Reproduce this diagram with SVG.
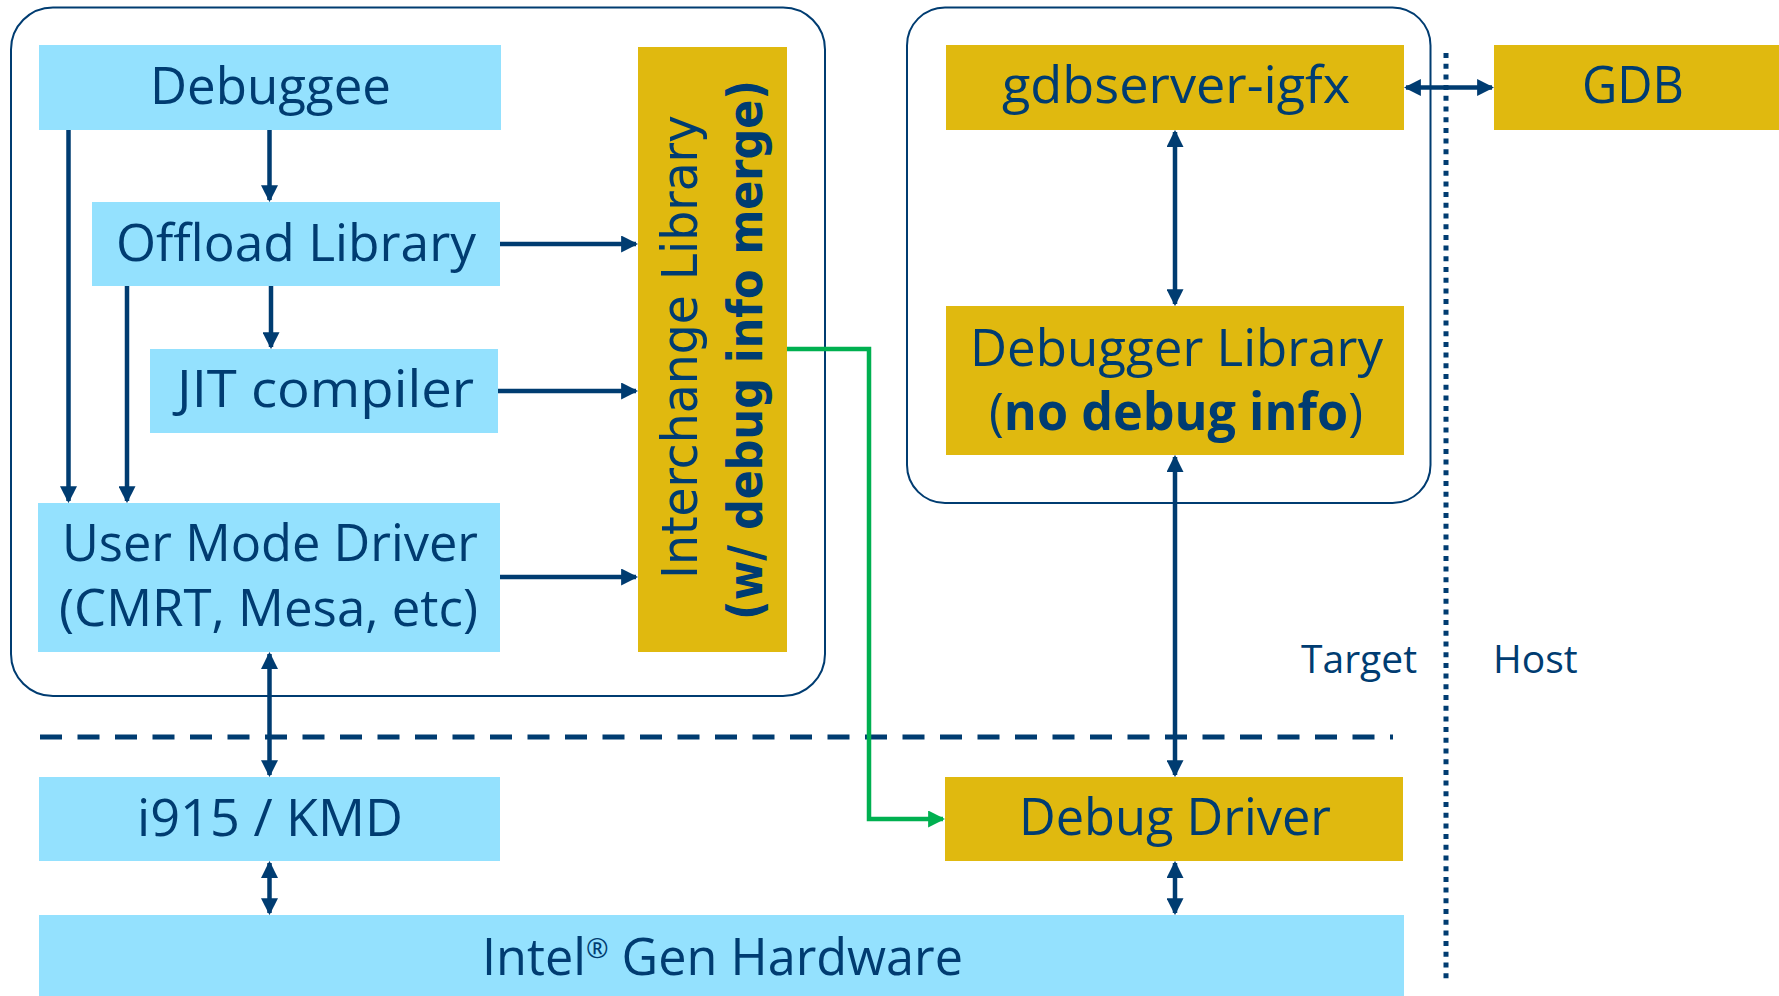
<svg xmlns="http://www.w3.org/2000/svg" width="1779" height="996" viewBox="0 0 1779 996">
  <style>
    .blue { fill: #94E1FE; }
    .gold { fill: #E0B90F; }
    .frame { fill: none; stroke: #003C71; stroke-width: 2; }
    .lbl { font-family: "Open Sans", "Noto Sans", sans-serif; font-size: 52px; fill: #003C71; text-anchor: middle; }
    .small { font-family: "Open Sans", "Noto Sans", sans-serif; font-size: 39px; fill: #003C71; }
    .vert { font-family: "DejaVu Sans", "Liberation Sans", sans-serif; fill: #003C71; text-anchor: middle; }
    .conn { fill: none; stroke: #003C71; stroke-width: 4.5; }
    .green { fill: none; stroke: #00B050; stroke-width: 4.5; }
  </style>
  <defs>
    <marker id="ah" viewBox="0 0 16 16" refX="14" refY="8" markerWidth="17" markerHeight="17" markerUnits="userSpaceOnUse" orient="auto-start-reverse">
      <path d="M0,0 L16,8 L0,16 z" fill="#003C71"/>
    </marker>
    <marker id="ahg" viewBox="0 0 16 16" refX="14" refY="8" markerWidth="17" markerHeight="17" markerUnits="userSpaceOnUse" orient="auto">
      <path d="M0,0 L16,8 L0,16 z" fill="#00B050"/>
    </marker>
  </defs>

  <g id="containers">
    <rect class="frame" x="11" y="7.5" width="814" height="688.5" rx="42" ry="42"/>
    <rect class="frame" x="907" y="7.5" width="523.5" height="495.5" rx="38" ry="38"/>
  </g>

  <g id="separators">
    <path d="M40,737 H1393" fill="none" stroke="#003C71" stroke-width="5" stroke-dasharray="22 15.5"/>
    <path d="M1446,53 V983" fill="none" stroke="#003C71" stroke-width="5" stroke-dasharray="5 5.7"/>
  </g>

  <g id="debuggee">
    <rect class="blue" x="39" y="45" width="462" height="85"/>
    <text class="lbl" x="270.5" y="104" textLength="241" lengthAdjust="spacingAndGlyphs">Debuggee</text>
  </g>
  <g id="offload-library">
    <rect class="blue" x="92" y="202" width="408" height="84"/>
    <text class="lbl" x="296" y="261" textLength="360" lengthAdjust="spacingAndGlyphs">Offload Library</text>
  </g>
  <g id="jit-compiler">
    <rect class="blue" x="150" y="349" width="348" height="84"/>
    <text class="lbl" x="325.5" y="407" textLength="297" lengthAdjust="spacingAndGlyphs">JIT compiler</text>
  </g>
  <g id="user-mode-driver">
    <rect class="blue" x="38" y="503" width="462" height="149"/>
    <text class="lbl" x="270" y="561" textLength="416" lengthAdjust="spacingAndGlyphs">User Mode Driver</text>
    <text class="lbl" x="268.5" y="626" textLength="419" lengthAdjust="spacingAndGlyphs">(CMRT, Mesa, etc)</text>
  </g>
  <g id="interchange-library">
    <rect class="gold" x="638" y="47" width="149" height="605"/>
    <text class="vert" transform="translate(697,347) rotate(-90)" font-size="50" textLength="464" lengthAdjust="spacingAndGlyphs">Interchange Library</text>
    <text class="vert" transform="translate(762,350) rotate(-90)" font-size="48" font-weight="bold" textLength="540" lengthAdjust="spacingAndGlyphs">(w/ debug info merge)</text>
  </g>
  <g id="i915-kmd">
    <rect class="blue" x="39" y="777" width="461" height="84"/>
    <text class="lbl" x="270" y="836" textLength="266" lengthAdjust="spacingAndGlyphs">i915 / KMD</text>
  </g>
  <g id="intel-gen-hardware">
    <rect class="blue" x="39" y="915" width="1365" height="81"/>
    <text class="lbl" x="482" y="975" style="text-anchor:start" textLength="481" lengthAdjust="spacingAndGlyphs">Intel<tspan font-size="28" dy="-17">®</tspan><tspan dy="17"> Gen Hardware</tspan></text>
  </g>
  <g id="gdbserver-igfx">
    <rect class="gold" x="946" y="45" width="458" height="85"/>
    <text class="lbl" x="1176" y="103" textLength="348" lengthAdjust="spacingAndGlyphs">gdbserver-igfx</text>
  </g>
  <g id="gdb">
    <rect class="gold" x="1494" y="45" width="285" height="85"/>
    <text class="lbl" x="1633" y="103" textLength="102" lengthAdjust="spacingAndGlyphs">GDB</text>
  </g>
  <g id="debugger-library">
    <rect class="gold" x="946" y="306" width="458" height="149"/>
    <text class="lbl" x="1176.5" y="366" textLength="413" lengthAdjust="spacingAndGlyphs">Debugger Library</text>
    <text class="lbl" x="1176" y="430" textLength="374" lengthAdjust="spacingAndGlyphs">(<tspan font-weight="bold">no debug info</tspan>)</text>
  </g>
  <g id="debug-driver">
    <rect class="gold" x="945" y="777" width="458" height="84"/>
    <text class="lbl" x="1175" y="835" textLength="312" lengthAdjust="spacingAndGlyphs">Debug Driver</text>
  </g>
  <g id="labels">
    <text class="small" x="1301" y="673">Target</text>
    <text class="small" x="1493" y="673">Host</text>
  </g>

  <g id="connectors">
    <path class="conn" d="M269.5,130 V200" marker-end="url(#ah)"/>
    <path class="conn" d="M271,286 V347" marker-end="url(#ah)"/>
    <path class="conn" d="M68.5,130 V501" marker-end="url(#ah)"/>
    <path class="conn" d="M127,286 V501" marker-end="url(#ah)"/>
    <path class="conn" d="M500,244 H636" marker-end="url(#ah)"/>
    <path class="conn" d="M498,391 H636" marker-end="url(#ah)"/>
    <path class="conn" d="M500,577 H636" marker-end="url(#ah)"/>
    <path class="conn" d="M269.5,654 V775" marker-start="url(#ah)" marker-end="url(#ah)"/>
    <path class="conn" d="M269.5,863 V913" marker-start="url(#ah)" marker-end="url(#ah)"/>
    <path class="conn" d="M1406,87.5 H1492" marker-start="url(#ah)" marker-end="url(#ah)"/>
    <path class="conn" d="M1175,132 V304" marker-start="url(#ah)" marker-end="url(#ah)"/>
    <path class="conn" d="M1175,457 V775" marker-start="url(#ah)" marker-end="url(#ah)"/>
    <path class="conn" d="M1175,863 V913" marker-start="url(#ah)" marker-end="url(#ah)"/>
    <path class="green" d="M787,349 H869 V819 H943" marker-end="url(#ahg)"/>
  </g>
</svg>
